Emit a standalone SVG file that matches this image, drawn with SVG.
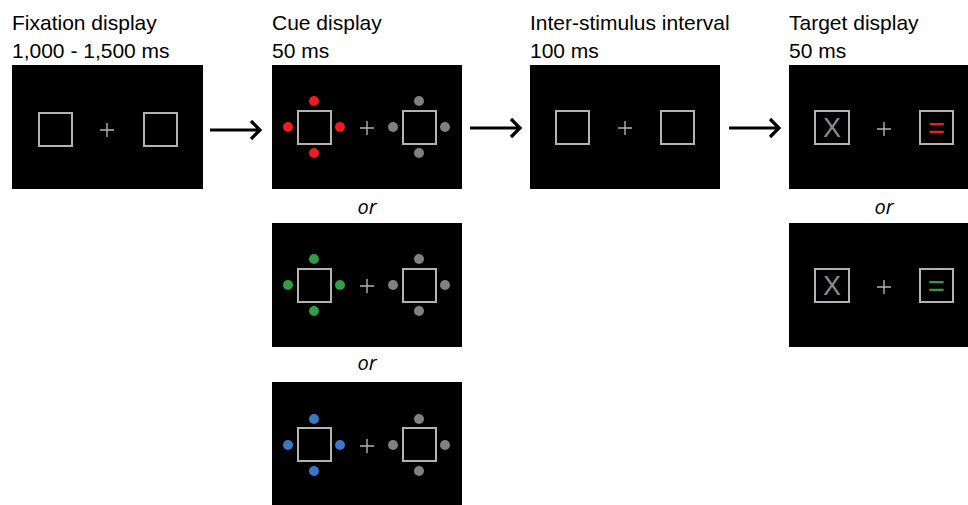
<svg xmlns="http://www.w3.org/2000/svg" width="968" height="505" viewBox="0 0 968 505">
<defs>
<style>
.lbl{font-family:"Liberation Sans",Arial,sans-serif;font-size:21px;fill:#000}
.or{font-family:"Open Sans","Liberation Sans",sans-serif;font-size:20px;font-style:italic;fill:#000}
.scr{fill:#000}
.sq{fill:none;stroke:#b3b3b3;stroke-width:2}
.cr{stroke:#b3b3b3;stroke-width:1.4;fill:none}
.gd{fill:#808080}
.rd{fill:#ed1c24}
.grd{fill:#2f9e47}
.bd{fill:#3b78c6}
.xl{font-family:"Liberation Sans",Arial,sans-serif;font-size:27px;fill:#8c8c8c}
.eq{font-family:"Liberation Sans",Arial,sans-serif;font-size:29px}
.ar{stroke:#000;stroke-width:3.2;fill:none;stroke-linejoin:miter}
</style>
<g id="plus"><path class="cr" d="M-7 0H7M0 -7V7"/></g>
<g id="dots4"><circle cx="0" cy="-26" r="5"/><circle cx="0" cy="26" r="5"/><circle cx="-26" cy="0" r="5"/><circle cx="26" cy="0" r="5"/></g>
</defs>
<rect width="968" height="505" fill="#fff"/>

<g id="fixation">
<text class="lbl" x="12" y="30">Fixation display</text>
<text class="lbl" x="12" y="58">1,000 - 1,500 ms</text>
<rect class="scr" x="12" y="65" width="191" height="124"/>
<rect class="sq" x="39" y="113" width="33" height="33"/>
<rect class="sq" x="144" y="113" width="33" height="33"/>
<use href="#plus" x="107" y="130"/>
</g>

<g id="cue">
<text class="lbl" x="272" y="30">Cue display</text>
<text class="lbl" x="272" y="58">50 ms</text>
<rect class="scr" x="272" y="65" width="190" height="124"/>
<rect class="sq" x="298" y="111" width="33" height="33"/>
<rect class="sq" x="403" y="111" width="33" height="33"/>
<use href="#dots4" class="rd" x="314" y="127"/>
<use href="#dots4" class="gd" x="419" y="127"/>
<use href="#plus" x="367" y="128"/>
</g>

<g id="or1"><text class="or" x="367" y="214" text-anchor="middle">or</text></g>

<g id="cue-green">
<rect class="scr" x="272" y="223" width="190" height="124"/>
<rect class="sq" x="298" y="269" width="33" height="33"/>
<rect class="sq" x="403" y="269" width="33" height="33"/>
<use href="#dots4" class="grd" x="314" y="285"/>
<use href="#dots4" class="gd" x="419" y="285"/>
<use href="#plus" x="367" y="286"/>
</g>

<g id="or2"><text class="or" x="367" y="370" text-anchor="middle">or</text></g>

<g id="cue-blue">
<rect class="scr" x="272" y="382" width="190" height="123"/>
<rect class="sq" x="298" y="428" width="33" height="33"/>
<rect class="sq" x="403" y="428" width="33" height="33"/>
<use href="#dots4" class="bd" x="314" y="445"/>
<use href="#dots4" class="gd" x="419" y="445"/>
<use href="#plus" x="367" y="446"/>
</g>

<g id="isi">
<text class="lbl" x="530" y="30">Inter-stimulus interval</text>
<text class="lbl" x="530" y="58">100 ms</text>
<rect class="scr" x="530" y="65" width="190" height="124"/>
<rect class="sq" x="556" y="111" width="33" height="33"/>
<rect class="sq" x="661" y="111" width="33" height="33"/>
<use href="#plus" x="625" y="128"/>
</g>

<g id="target">
<text class="lbl" x="789" y="30">Target display</text>
<text class="lbl" x="789" y="58">50 ms</text>
<rect class="scr" x="789" y="65" width="179" height="124"/>
<rect class="sq" x="815" y="111" width="34" height="33"/>
<rect class="sq" x="920" y="111" width="33" height="33"/>
<text class="xl" x="832" y="137" text-anchor="middle">X</text>
<text class="eq" x="936.5" y="138" text-anchor="middle" fill="#ed1c24">=</text>
<use href="#plus" x="884" y="129"/>
</g>

<g id="or3"><text class="or" x="884" y="214" text-anchor="middle">or</text></g>

<g id="target-green">
<rect class="scr" x="789" y="223" width="179" height="124"/>
<rect class="sq" x="815" y="269" width="34" height="33"/>
<rect class="sq" x="920" y="269" width="33" height="33"/>
<text class="xl" x="832" y="295" text-anchor="middle">X</text>
<text class="eq" x="936.5" y="296" text-anchor="middle" fill="#2f9e47">=</text>
<use href="#plus" x="884" y="287"/>
</g>

<g id="connectors">
<path class="ar" d="M210 130H259M251 121L260 130L251 139"/>
<path class="ar" d="M470 128H519M511 119L520 128L511 137"/>
<path class="ar" d="M729 128H778M770 119L779 128L770 137"/>
</g>
</svg>
